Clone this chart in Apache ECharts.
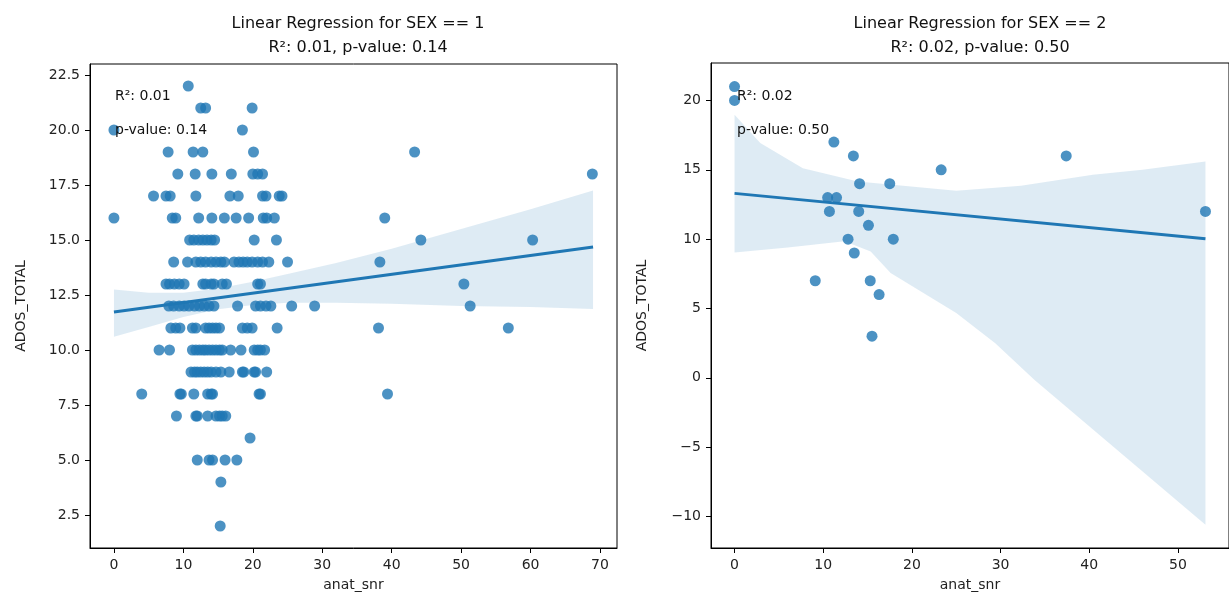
<!DOCTYPE html>
<html>
<head>
<meta charset="utf-8">
<script src="https://cdn.jsdelivr.net/npm/echarts@6/dist/echarts.min.js"></script>
<style>
  html, body { margin: 0; padding: 0; background: #fff; }
  #chart { width: 1229px; height: 604px; }
</style>
</head>
<body>
<div id="chart"></div>
<script>
"use strict";

// SEX == 1 : [anat_snr, ADOS_TOTAL], read row by row
var sex1Points = [
  [10.7, 22],
  [12.5, 21], [13.2, 21], [19.9, 21],
  [0, 20], [18.5, 20],
  [7.8, 19], [11.4, 19], [12.8, 19], [20.1, 19], [43.3, 19],
  [9.2, 18], [11.7, 18], [14.1, 18], [16.9, 18], [20.0, 18], [20.7, 18], [21.4, 18], [68.9, 18],
  [5.7, 17], [7.5, 17], [8.1, 17], [11.8, 17], [16.7, 17], [17.9, 17], [21.4, 17], [21.9, 17], [23.8, 17], [24.2, 17],
  [0, 16], [8.4, 16], [8.9, 16], [12.2, 16], [14.1, 16], [15.9, 16], [17.6, 16], [19.4, 16], [21.5, 16], [22.0, 16], [23.1, 16], [39.0, 16],
  [10.9, 15], [11.5, 15], [12.2, 15], [12.8, 15], [13.4, 15], [14.0, 15], [14.5, 15], [20.2, 15], [23.4, 15], [44.2, 15], [60.3, 15],
  [8.6, 14], [10.6, 14], [11.8, 14], [12.5, 14], [13.2, 14], [14.0, 14], [14.7, 14], [15.4, 14], [15.9, 14], [17.3, 14],
  [18.0, 14], [18.6, 14], [19.2, 14], [19.9, 14], [20.7, 14], [21.4, 14], [22.3, 14], [25.0, 14], [38.3, 14],
  [7.5, 13], [8.0, 13], [8.7, 13], [9.4, 13], [10.1, 13], [12.8, 13], [13.2, 13], [14.0, 13], [14.4, 13], [15.6, 13],
  [16.2, 13], [20.7, 13], [21.1, 13], [50.4, 13],
  [7.9, 12], [8.6, 12], [9.4, 12], [10.1, 12], [10.8, 12], [11.6, 12], [12.3, 12], [13.0, 12], [13.7, 12], [14.4, 12],
  [17.8, 12], [20.4, 12], [21.1, 12], [21.9, 12], [22.6, 12], [25.6, 12], [28.9, 12], [51.3, 12],
  [8.2, 11], [8.9, 11], [9.5, 11], [11.3, 11], [11.8, 11], [13.2, 11], [13.7, 11], [14.2, 11], [14.7, 11], [15.2, 11],
  [18.5, 11], [19.2, 11], [19.9, 11], [23.5, 11], [38.1, 11], [56.8, 11],
  [6.5, 10], [8.0, 10], [11.3, 10], [11.8, 10], [12.3, 10], [12.8, 10], [13.2, 10], [13.7, 10], [14.2, 10], [14.7, 10],
  [15.2, 10], [15.6, 10], [16.8, 10], [18.3, 10], [20.2, 10], [20.7, 10], [21.1, 10], [21.7, 10],
  [11.1, 9], [11.6, 9], [12.0, 9], [12.5, 9], [13.0, 9], [13.5, 9], [14.0, 9], [14.7, 9], [15.4, 9], [16.6, 9],
  [18.5, 9], [18.7, 9], [20.2, 9], [20.4, 9], [22.0, 9],
  [4.0, 8], [9.5, 8], [9.7, 8], [11.5, 8], [13.5, 8], [14.0, 8], [14.2, 8], [20.9, 8], [21.1, 8], [39.4, 8],
  [9.0, 7], [11.8, 7], [12.0, 7], [13.5, 7], [14.7, 7], [15.2, 7], [15.6, 7], [16.1, 7],
  [19.6, 6],
  [12.0, 5], [13.7, 5], [14.2, 5], [16.0, 5], [17.7, 5],
  [15.4, 4],
  [15.3, 2]
];
var sex1Line = [[0, 11.73], [69, 14.68]];
var sex1BandUpX = [0, 5, 10, 15, 20, 25, 32, 40, 50, 60, 69];
var sex1BandUpY = [12.75, 12.6, 12.6, 12.8, 13.1, 13.45, 13.95, 14.6, 15.5, 16.4, 17.25];
var sex1BandLoX = [0, 5, 10, 15, 20, 25, 32, 40, 50, 60, 69];
var sex1BandLoY = [10.6, 11.05, 11.5, 11.85, 12.05, 12.15, 12.15, 12.1, 12.0, 11.95, 11.86];

// SEX == 2
var sex2Points = [
  [0, 21], [0, 20], [11.2, 17], [13.4, 16], [37.4, 16], [23.3, 15], [14.1, 14], [17.5, 14],
  [10.5, 13], [11.5, 13], [10.7, 12], [14.0, 12], [53.1, 12], [15.1, 11], [12.8, 10], [17.9, 10],
  [13.5, 9], [9.1, 7], [15.3, 7], [16.3, 6], [15.5, 3]
];
var sex2Line = [[0, 13.3], [53.1, 10.03]];
var sex2BandUpX = [0, 2.9, 7.7, 13.9, 25, 32.3, 40.4, 46, 53.1];
var sex2BandUpY = [18.97, 16.93, 15.12, 14.16, 13.49, 13.85, 14.64, 15.0, 15.6];
var sex2BandLoX = [0, 6, 12.4, 15.35, 17.6, 21.3, 25, 29.4, 33.8, 53.1];
var sex2BandLoY = [9.04, 9.4, 9.84, 9.11, 7.55, 6.11, 4.67, 2.5, -0.14, -10.6];

var titles = [
  'Linear Regression for SEX == 1\nR\u00b2: 0.01, p-value: 0.14',
  'Linear Regression for SEX == 2\nR\u00b2: 0.02, p-value: 0.50'
];
var notes = [['R\u00b2: 0.01', 'p-value: 0.14'], ['R\u00b2: 0.02', 'p-value: 0.50']];

var xTicks1 = [0, 10, 20, 30, 40, 50, 60, 70];
var yTicks1 = [2.5, 5, 7.5, 10, 12.5, 15, 17.5, 20, 22.5];
var xTicks2 = [0, 10, 20, 30, 40, 50];
var yTicks2 = [-10, -5, 0, 5, 10, 15, 20];

var FONT = 'DejaVu Sans';
var BLUE = '#1f77b4';

function minus(v) {
  return String(v).replace('-', '\u2212');
}

function bandRenderer(upX, upY, loX, loY) {
  return function (params, api) {
    var pts = [], i;
    for (i = 0; i < upX.length; i++) {
      pts.push(api.coord([upX[i], upY[i]]));
    }
    for (i = loX.length - 1; i >= 0; i--) {
      pts.push(api.coord([loX[i], loY[i]]));
    }
    return {
      type: 'polygon',
      shape: { points: pts },
      style: { fill: 'rgba(31,119,180,0.15)' }
    };
  };
}

function makeX(idx, min, max, ticks) {
  return {
    type: 'value', gridIndex: idx, min: min, max: max,
    name: 'anat_snr', nameLocation: 'middle', nameGap: 30,
    nameTextStyle: { fontFamily: FONT, fontSize: 14, color: '#222' },
    axisLine: { show: true, onZero: false, lineStyle: { color: '#000', width: 1 } },
    axisTick: { show: true, length: 5, customValues: ticks, lineStyle: { color: '#000' } },
    axisLabel: { customValues: ticks, margin: 10, fontFamily: FONT, fontSize: 14, color: '#222', formatter: minus },
    splitLine: { show: false }
  };
}

function makeY(idx, min, max, ticks, fmt) {
  return {
    type: 'value', gridIndex: idx, min: min, max: max,
    name: 'ADOS_TOTAL', nameLocation: 'middle', nameGap: 62,
    nameTextStyle: { fontFamily: FONT, fontSize: 14, color: '#222' },
    axisLine: { show: true, onZero: false, lineStyle: { color: '#000', width: 1 } },
    axisTick: { show: true, length: 5, customValues: ticks, lineStyle: { color: '#000' } },
    axisLabel: { customValues: ticks, margin: 10, fontFamily: FONT, fontSize: 14, color: '#222', formatter: fmt },
    splitLine: { show: false }
  };
}

var chart = echarts.init(document.getElementById('chart'));

var option = {
  backgroundColor: '#fff',
  animation: false,
  title: [
    { text: titles[0], left: 353, top: 7, textAlign: 'center',
      textStyle: { fontFamily: FONT, fontSize: 16, fontWeight: 'normal', color: '#111', lineHeight: 24 } },
    { text: titles[1], left: 975, top: 7, textAlign: 'center',
      textStyle: { fontFamily: FONT, fontSize: 16, fontWeight: 'normal', color: '#111', lineHeight: 24 } }
  ],
  grid: [
    { left: 90, top: 64, width: 527, height: 484, show: true, borderColor: '#000', borderWidth: 1 },
    { left: 711, top: 63, width: 529, height: 485, show: true, borderColor: '#000', borderWidth: 1 }
  ],
  xAxis: [
    makeX(0, -3.45, 72.45, xTicks1),
    makeX(1, -2.655, 55.755, xTicks2)
  ],
  yAxis: [
    makeY(0, 1, 23, yTicks1, function (v) { return v.toFixed(1); }),
    makeY(1, -12.27, 22.7, yTicks2, minus)
  ],
  graphic: [
    { type: 'text', left: 115, top: 89, z: 100, style: { text: notes[0][0], font: '14px "DejaVu Sans"', fill: '#111' } },
    { type: 'text', left: 115, top: 123, z: 100, style: { text: notes[0][1], font: '14px "DejaVu Sans"', fill: '#111' } },
    { type: 'text', left: 737, top: 89, z: 100, style: { text: notes[1][0], font: '14px "DejaVu Sans"', fill: '#111' } },
    { type: 'text', left: 737, top: 123, z: 100, style: { text: notes[1][1], font: '14px "DejaVu Sans"', fill: '#111' } }
  ],
  series: [
    { type: 'custom', xAxisIndex: 0, yAxisIndex: 0, data: [[0, 0]], z: 1, silent: true,
      renderItem: bandRenderer(sex1BandUpX, sex1BandUpY, sex1BandLoX, sex1BandLoY) },
    { type: 'scatter', xAxisIndex: 0, yAxisIndex: 0, data: sex1Points, symbolSize: 11, z: 2,
      itemStyle: { color: BLUE, opacity: 0.8 } },
    { type: 'line', xAxisIndex: 0, yAxisIndex: 0, data: sex1Line, showSymbol: false, z: 3,
      lineStyle: { color: BLUE, width: 3 } },

    { type: 'custom', xAxisIndex: 1, yAxisIndex: 1, data: [[0, 0]], z: 1, silent: true,
      renderItem: bandRenderer(sex2BandUpX, sex2BandUpY, sex2BandLoX, sex2BandLoY) },
    { type: 'scatter', xAxisIndex: 1, yAxisIndex: 1, data: sex2Points, symbolSize: 11, z: 2,
      itemStyle: { color: BLUE, opacity: 0.8 } },
    { type: 'line', xAxisIndex: 1, yAxisIndex: 1, data: sex2Line, showSymbol: false, z: 3,
      lineStyle: { color: BLUE, width: 3 } }
  ]
};

chart.setOption(option);
</script>
</body>
</html>
